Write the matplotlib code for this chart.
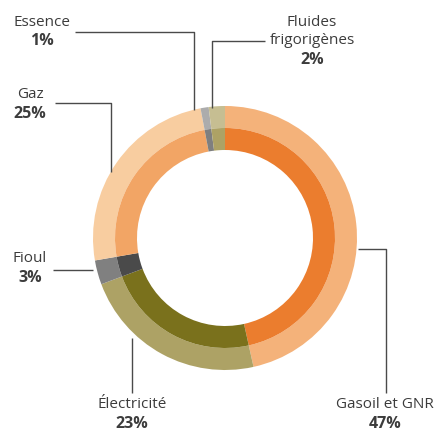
import matplotlib
matplotlib.use("Agg")
import matplotlib.pyplot as plt

categories = ["Gasoil et GNR", "Électricité", "Fioul", "Gaz", "Essence", "Fluides\nfrigorigènes"]
values = [47, 23, 3, 25, 1, 2]
pct_labels = ["47%", "23%", "3%", "25%", "1%", "2%"]
outer_colors = ["#F4B27A", "#ADA265", "#808080", "#F8CDA0", "#ACACAC", "#C6BE92"]
inner_colors = ["#EB7D2E", "#7A711C", "#4A4A4A", "#F2A565", "#7F7F7F", "#ADA265"]

W, H = 438, 434
fig = plt.figure(figsize=(W / 100, H / 100), dpi=100)
ax = fig.add_axes([0, 0, 1, 1])

cx, cy = 225, H - 238
R_out, R_mid, R_in = 132, 110, 88

ax.pie(values, radius=R_out, center=(cx, cy), startangle=90, counterclock=False,
       colors=outer_colors, wedgeprops=dict(width=R_out - R_mid, linewidth=0))
ax.pie(values, radius=R_mid, center=(cx, cy), startangle=90, counterclock=False,
       colors=inner_colors, wedgeprops=dict(width=R_mid - R_in, linewidth=0))

ax.set_xlim(0, W)
ax.set_ylim(0, H)
ax.set_aspect("equal")
ax.axis("off")

font = "Open Sans"
tcol = "#3c3c3c"
lcol = "#4a4a4a"

def Y(y):
    return H - y

def label(x, ys, name, pct):
    lines = name.split("\n")
    for i, ln in enumerate(lines):
        ax.text(x, Y(ys + i * 19), ln, ha="center", va="center", fontsize=11,
                family=font, color=tcol)
    ax.text(x, Y(ys + len(lines) * 19), pct, ha="center", va="center", fontsize=11.5,
            family=font, color=tcol, fontweight="bold")

def leader(pts):
    xs = [p[0] for p in pts]
    ys = [Y(p[1]) for p in pts]
    ax.plot(xs, ys, color=lcol, lw=1, solid_capstyle="butt")

# Essence
label(42, 22, categories[4], pct_labels[4])
leader([(75, 32), (194, 32), (194, 110)])
# Fluides frigorigènes
label(312, 22, categories[5], pct_labels[5])
leader([(265, 41), (212, 41), (212, 108)])
# Gaz
label(30, 95, categories[3], pct_labels[3])
leader([(55, 103), (111, 103), (111, 172)])
# Fioul
label(30, 259, categories[2], pct_labels[2])
leader([(53, 270), (93, 270)])
# Électricité
label(132, 405, categories[1], pct_labels[1])
leader([(132, 338), (132, 393)])
# Gasoil
label(385, 405, categories[0], pct_labels[0])
leader([(358, 249), (386, 249), (386, 393)])

fig.savefig("out.png", dpi=100)
